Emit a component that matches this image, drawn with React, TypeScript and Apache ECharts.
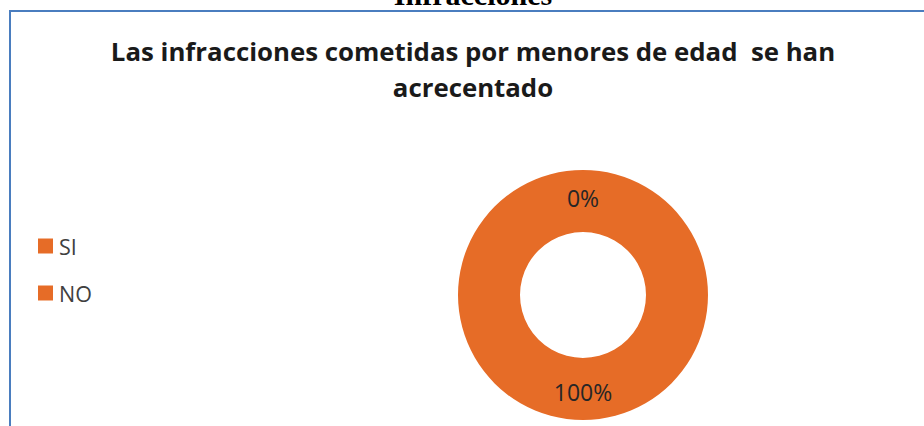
import React, { useEffect, useRef } from "react";
import * as echarts from "echarts";

const categories = ["SI", "NO"];
const values = [0, 100];
const titleLines = ["Las infracciones cometidas por menores de edad  se han", "acrecentado"];
const headerText = "Infracciones";

const ORANGE = "#E66C27";
const FRAME = "#4A7DBF";

export default function App() {
  const ref = useRef<HTMLDivElement>(null);
  useEffect(() => {
    if (!ref.current) return;
    const chart = echarts.init(ref.current, null, { renderer: "svg" });
    chart.setOption({
      animation: false,
      backgroundColor: "#ffffff",
      title: {
        text: titleLines.join("\n"),
        left: 473,
        textAlign: "center",
        top: 33,
        padding: 0,
        textStyle: {
          fontFamily: "Open Sans",
          fontWeight: "bold",
          fontSize: 25.8,
          lineHeight: 36,
          color: "#1a1a1a",
        },
      },
      legend: {
        orient: "vertical",
        left: 38,
        top: 235,
        padding: 0,
        itemWidth: 15,
        itemHeight: 15,
        itemGap: 25,
        icon: "rect",
        selectedMode: false,
        data: categories,
        textStyle: {
          fontFamily: "Open Sans",
          fontSize: 21.5,
          lineHeight: 15,
          color: "#404040",
          padding: [0, 0, 0, 1],
        },
      },
      graphic: [
        {
          type: "text",
          x: 473,
          y: 9,
          style: {
            text: headerText,
            textAlign: "center",
            textVerticalAlign: "bottom",
            fontFamily: "Liberation Serif",
            fontWeight: "bold",
            fontSize: 30,
            fill: "#000000",
          },
        },
        {
          type: "line",
          shape: { x1: 10, y1: 11, x2: 924, y2: 11 },
          style: { stroke: FRAME, lineWidth: 2 },
        },
        {
          type: "line",
          shape: { x1: 10, y1: 10, x2: 10, y2: 426 },
          style: { stroke: FRAME, lineWidth: 2 },
        },
      ],
      series: [
        {
          type: "pie",
          center: [583, 295],
          radius: [63, 125],
          startAngle: 90,
          clockwise: true,
          silent: true,
          itemStyle: { color: ORANGE, borderWidth: 0 },
          label: {
            show: true,
            position: "inside",
            formatter: "{d}%",
            fontFamily: "Open Sans",
            fontSize: 23,
            color: "#262626",
          },
          labelLine: { show: false },
          emphasis: { disabled: true },
          data: categories.map((c, i) => ({ name: c, value: values[i] })),
        },
      ],
    });
    return () => chart.dispose();
  }, []);
  return (
    <div
      ref={ref}
      style={{ position: "absolute", left: 0, top: 0, width: 924, height: 426 }}
    />
  );
}
